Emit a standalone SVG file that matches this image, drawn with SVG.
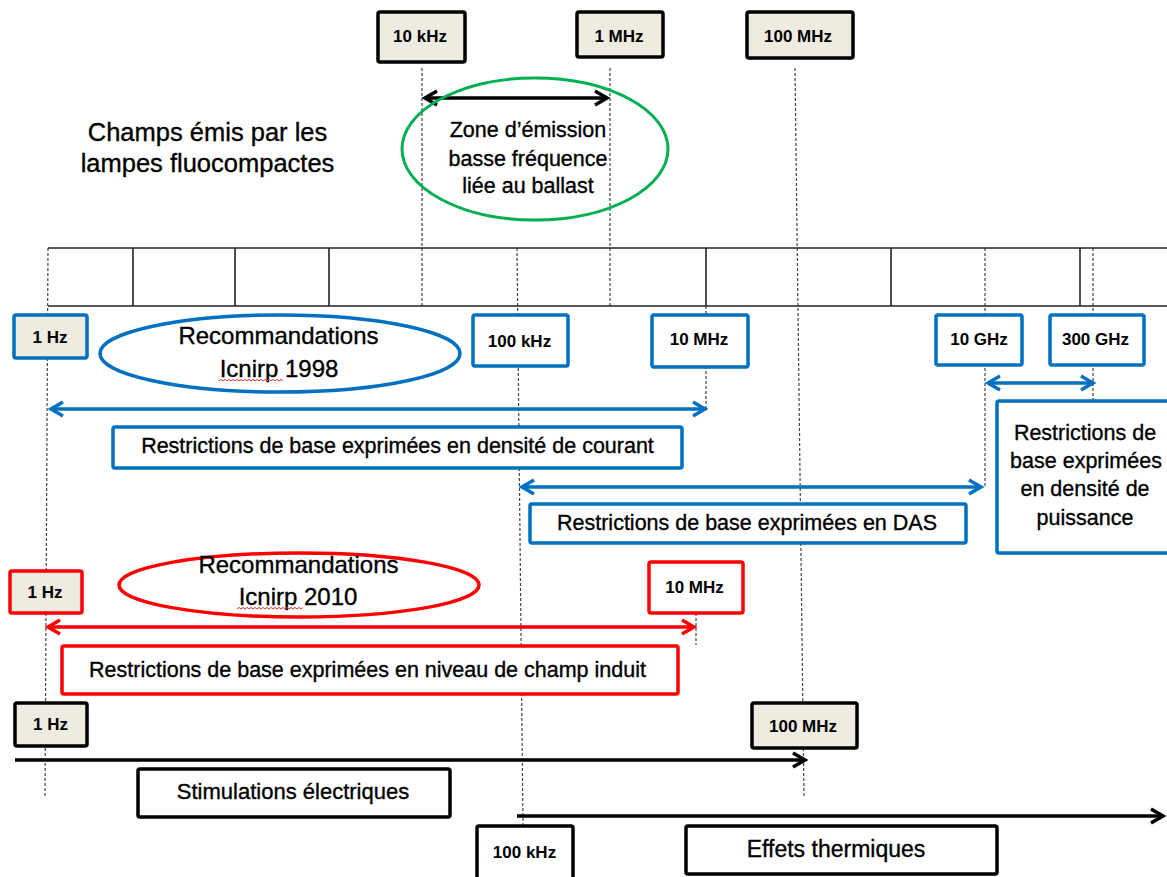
<svg xmlns="http://www.w3.org/2000/svg" width="1167" height="877" viewBox="0 0 1167 877">
<style>
text{font-family:"Liberation Sans",Arial,sans-serif;fill:#000;text-anchor:middle}
.lbl{font-size:17px;font-weight:bold}
.body{font-size:21.5px;stroke:#000;stroke-width:0.35}
.ell{font-size:24px;stroke:#000;stroke-width:0.35}
.big{font-size:25.5px;stroke:#000;stroke-width:0.35}
.bx{stroke-width:3.5}
.blk{stroke:#000}
.blu{stroke:#0070C0}
.red{stroke:#FF0000}
.beige{fill:#EEECE1}
.white{fill:#fff}
.dash{stroke:#444;stroke-width:1.2;stroke-dasharray:3 2;fill:none}
.tick{stroke:#222;stroke-width:1.6;fill:none}
.arr{fill:none;stroke-width:3.5}
.sq{fill:none;stroke:#E03030;stroke-width:1}
</style>
<defs>
<marker id="ah-k" markerUnits="userSpaceOnUse" viewBox="-15 -10 20 20" markerWidth="20" markerHeight="20" refX="0" refY="0" orient="auto-start-reverse"><path d="M-12,-7 L0,0 L-12,7" fill="none" stroke="#000" stroke-width="3.5"/></marker>
<marker id="ah-b" markerUnits="userSpaceOnUse" viewBox="-15 -10 20 20" markerWidth="20" markerHeight="20" refX="0" refY="0" orient="auto-start-reverse"><path d="M-12,-7 L0,0 L-12,7" fill="none" stroke="#0070C0" stroke-width="3.5"/></marker>
<marker id="ah-r" markerUnits="userSpaceOnUse" viewBox="-15 -10 20 20" markerWidth="20" markerHeight="20" refX="0" refY="0" orient="auto-start-reverse"><path d="M-12,-7 L0,0 L-12,7" fill="none" stroke="#FF0000" stroke-width="3.5"/></marker>
</defs>

<g id="guides">
<line class="dash" x1="422" y1="68" x2="422" y2="306"/>
<line class="dash" x1="610" y1="68" x2="610" y2="306"/>
<line class="dash" x1="795" y1="68" x2="804" y2="798"/>
<line class="dash" x1="48" y1="248" x2="45" y2="798"/>
<line class="dash" x1="517" y1="248" x2="523" y2="826"/>
<line class="dash" x1="706" y1="306" x2="706" y2="410"/>
<line class="dash" x1="985" y1="248" x2="985" y2="486"/>
<line class="dash" x1="1093" y1="248" x2="1093" y2="401"/>
<line class="dash" x1="696" y1="613" x2="696" y2="645"/>
</g>

<g id="ruler">
<line class="tick" x1="48" y1="248" x2="1167" y2="248"/>
<line class="tick" x1="48" y1="306" x2="1167" y2="306"/>
<line class="tick" x1="133" y1="248" x2="133" y2="306"/>
<line class="tick" x1="235" y1="248" x2="235" y2="306"/>
<line class="tick" x1="329" y1="248" x2="329" y2="306"/>
<line class="tick" x1="706" y1="248" x2="706" y2="306"/>
<line class="tick" x1="891" y1="248" x2="891" y2="306"/>
<line class="tick" x1="1080" y1="248" x2="1080" y2="306"/>
</g>

<g id="connectors">
<line class="arr" stroke="#000" x1="425" y1="98" x2="607" y2="98" marker-start="url(#ah-k)" marker-end="url(#ah-k)"/>
<line class="arr" stroke="#0070C0" x1="51" y1="409" x2="705" y2="409" marker-start="url(#ah-b)" marker-end="url(#ah-b)"/>
<line class="arr" stroke="#0070C0" x1="522" y1="487" x2="981" y2="487" marker-start="url(#ah-b)" marker-end="url(#ah-b)"/>
<line class="arr" stroke="#0070C0" x1="988" y1="383" x2="1093" y2="383" marker-start="url(#ah-b)" marker-end="url(#ah-b)"/>
<line class="arr" stroke="#FF0000" x1="48" y1="627" x2="694" y2="627" marker-start="url(#ah-r)" marker-end="url(#ah-r)"/>
<line class="arr" stroke="#000" x1="15" y1="760" x2="805" y2="760" marker-end="url(#ah-k)"/>
<line class="arr" stroke="#000" x1="517" y1="816" x2="1163" y2="816" marker-end="url(#ah-k)"/>
</g>

<g id="title">
<text class="big" x="207.5" y="141">Champs émis par les</text>
<text class="big" x="207.5" y="172">lampes fluocompactes</text>
</g>

<g id="f-10khz"><rect class="bx blk beige" x="378" y="12" width="87" height="50" rx="2"/><text class="lbl" x="420" y="42">10 kHz</text></g>
<g id="f-1mhz"><rect class="bx blk beige" x="577" y="12" width="86" height="45" rx="2"/><text class="lbl" x="619" y="42">1 MHz</text></g>
<g id="f-100mhz-top"><rect class="bx blk beige" x="747" y="12" width="106" height="46" rx="2"/><text class="lbl" x="798" y="42">100 MHz</text></g>

<g id="zone-ballast">
<ellipse cx="535" cy="149" rx="133" ry="71" fill="none" stroke="#00B050" stroke-width="3"/>
<text class="body" x="528" y="137">Zone d’émission</text>
<text class="body" x="528" y="166">basse fréquence</text>
<text class="body" x="528" y="193">liée au ballast</text>
</g>

<g id="icnirp-1998">
<ellipse cx="280" cy="353.5" rx="180" ry="38.5" fill="#fff" stroke="#0070C0" stroke-width="3.5"/>
<text class="ell" x="278.5" y="344">Recommandations</text>
<text class="ell" x="279" y="377">Icnirp 1998</text>
<path class="sq" d="M219,381 l2,-1.6 2,1.6 2,-1.6 2,1.6 2,-1.6 2,1.6 2,-1.6 2,1.6 2,-1.6 2,1.6 2,-1.6 2,1.6 2,-1.6 2,1.6 2,-1.6 2,1.6 2,-1.6 2,1.6 2,-1.6 2,1.6 2,-1.6 2,1.6 2,-1.6 2,1.6 2,-1.6 2,1.6 2,-1.6 2,1.6 2,-1.6 2,1.6 2,-1.6 2,1.6"/>
</g>

<g id="b-1hz"><rect class="bx blu beige" x="14" y="315" width="73" height="43" rx="2"/><text class="lbl" x="50" y="343">1 Hz</text></g>
<g id="b-100khz"><rect class="bx blu white" x="473" y="315" width="95" height="51" rx="2"/><text class="lbl" x="519.5" y="347">100 kHz</text></g>
<g id="b-10mhz"><rect class="bx blu white" x="652" y="315" width="96" height="52" rx="2"/><text class="lbl" x="699" y="345">10 MHz</text></g>
<g id="b-10ghz"><rect class="bx blu white" x="936" y="315" width="86" height="50" rx="2"/><text class="lbl" x="979" y="345">10 GHz</text></g>
<g id="b-300ghz"><rect class="bx blu white" x="1050" y="315" width="94" height="50" rx="2"/><text class="lbl" x="1095.5" y="345">300 GHz</text></g>

<g id="rb-courant"><rect class="bx blu white" x="113" y="427" width="569" height="41" rx="2"/><text class="body" x="397.5" y="453">Restrictions de base exprimées en densité de courant</text></g>
<g id="rb-das"><rect class="bx blu white" x="530" y="504" width="436" height="39" rx="2"/><text class="body" x="747" y="530">Restrictions de base exprimées en DAS</text></g>
<g id="rb-puissance"><rect class="bx blu white" x="997" y="401" width="175" height="152" rx="2"/>
<text class="body" x="1085" y="440">Restrictions de</text>
<text class="body" x="1086" y="468">base exprimées</text>
<text class="body" x="1085" y="496">en densité de</text>
<text class="body" x="1085" y="525">puissance</text>
</g>

<g id="icnirp-2010">
<ellipse cx="299" cy="585" rx="180" ry="32" fill="#fff" stroke="#FF0000" stroke-width="3.5"/>
<text class="ell" x="298.5" y="573">Recommandations</text>
<text class="ell" x="298" y="605">Icnirp 2010</text>
<path class="sq" d="M237,609 l2,-1.6 2,1.6 2,-1.6 2,1.6 2,-1.6 2,1.6 2,-1.6 2,1.6 2,-1.6 2,1.6 2,-1.6 2,1.6 2,-1.6 2,1.6 2,-1.6 2,1.6 2,-1.6 2,1.6 2,-1.6 2,1.6 2,-1.6 2,1.6 2,-1.6 2,1.6 2,-1.6 2,1.6 2,-1.6 2,1.6 2,-1.6 2,1.6 2,-1.6 2,1.6 2,-1.6"/>
</g>
<g id="r-1hz"><rect class="bx red beige" x="10" y="571" width="72" height="42" rx="2"/><text class="lbl" x="45" y="598">1 Hz</text></g>
<g id="r-10mhz"><rect class="bx red white" x="649" y="562" width="94" height="51" rx="2"/><text class="lbl" x="694.5" y="593">10 MHz</text></g>
<g id="rb-champ"><rect class="bx red white" x="62" y="646" width="616" height="48" rx="2"/><text class="body" x="367.5" y="677">Restrictions de base exprimées en niveau de champ induit</text></g>

<g id="k-1hz"><rect class="bx blk beige" x="15" y="703" width="72" height="43" rx="2"/><text class="lbl" x="50.5" y="730">1 Hz</text></g>
<g id="k-100mhz"><rect class="bx blk beige" x="752" y="703" width="105" height="45" rx="2"/><text class="lbl" x="803" y="732">100 MHz</text></g>
<g id="stimulations"><rect class="bx blk white" x="138" y="769" width="312" height="48" rx="2"/><text class="body" style="font-size:22px" x="293" y="799">Stimulations électriques</text></g>
<g id="k-100khz"><rect class="bx blk white" x="477" y="826" width="96" height="60" rx="2"/><text class="lbl" x="524.5" y="858">100 kHz</text></g>
<g id="effets"><rect class="bx blk white" x="686" y="826" width="311" height="48" rx="2"/><text class="body" style="font-size:23px" x="836" y="857">Effets thermiques</text></g>
</svg>
